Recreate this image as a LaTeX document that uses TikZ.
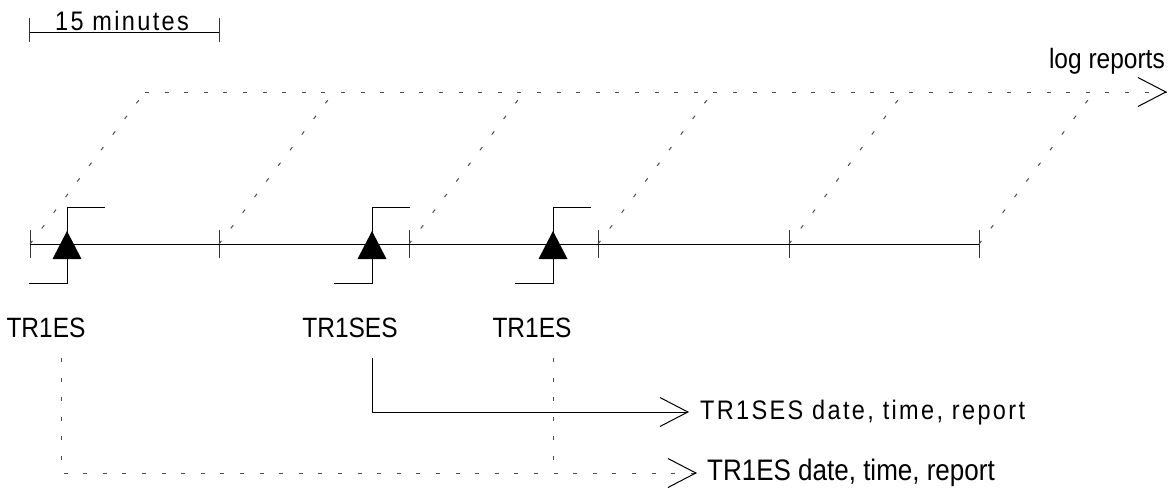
\documentclass[tikz,border=0pt]{standalone}
\usepackage{fontspec}
\usepackage{graphicx}
\setmainfont{Liberation Sans}
\usetikzlibrary{arrows.meta}
\newcommand{\tallt}[1]{\scalebox{1}[1.14]{#1}}
\begin{document}
\begin{tikzpicture}[x=1pt,y=-1pt,
  wire/.style={line width=1pt, draw=black},
  tickmark/.style={line width=1pt, draw=black!80},
  dotline/.style={line width=1pt, draw=black!70, dash pattern=on 4pt off 15.6pt},
  opentip/.style={-{Straight Barb[length=28pt,width=29pt,line width=1pt]}},
  lbl/.style={inner sep=0pt, font=\fontsize{24.5}{29}\selectfont},
  slbl/.style={inner sep=0pt, font=\fontsize{23.5}{29}\selectfont\addfontfeatures{LetterSpace=10}},
  blbl/.style={inner sep=0pt, font=\fontsize{26}{30}\selectfont},
  trig/.style={fill=black}
]
\useasboundingbox (0,0) rectangle (1168,490);

% scale bar
\coordinate (s1) at (29,32);
\coordinate (s2) at (219,32);
\draw[wire] (s1) -- (s2);
\draw[tickmark] ([yshift=-10pt]s1) -- ([yshift=14pt]s1);
\draw[tickmark] ([yshift=-10pt]s2) -- ([yshift=14pt]s2);
\node[slbl, anchor=base] (scale) at (122,30) {\tallt{15 minutes}};

% time line
\foreach \i/\x in {0/30,1/219,2/409,3/598,4/789,5/979}{
  \coordinate (t\i) at (\x,244);
  \coordinate (u\i) at (\x+115,92);
  \draw[tickmark] (\x,230) -- (\x,258);
}
\draw[wire] (t0) -- (t5);

% log reports line
\coordinate (lstart) at (u0);
\coordinate (lend) at (1167,92);
\draw[dotline] (lstart) -- (lend);
\draw[opentip, line width=1pt, draw=black] ([xshift=-1pt]lend) -- (lend);
\foreach \i in {0,...,5}{
  \draw[dotline] (t\i) -- (u\i);
}
\node[lbl, anchor=base east] (logrep) at (1165,68) {\tallt{log reports}};

% events
\foreach \n/\x in {e1/67,e2/372,e3/553}{
  \coordinate (\n) at (\x,244);
  \coordinate (\n top) at (\x,207);
  \coordinate (\n bot) at (\x,283);
  \draw[wire] (\x+38,207) -- (\n top) -- (\n bot) -- (\x-38,283);
  \fill[trig] (\x,231) -- (\x+14.5,259) -- (\x-14.5,259) -- cycle;
}

% labels
\node[lbl, anchor=base] (l1) at (46,337) {\tallt{TR1ES}};
\node[lbl, anchor=base] (l2) at (350,337) {\tallt{TR1SES}};
\node[lbl, anchor=base] (l3) at (532,337) {\tallt{TR1ES}};

% outputs
\coordinate (o1) at (689,412);
\coordinate (o2) at (697,473);
\coordinate (c2) at (372,358);
\coordinate (c2b) at (372,412);
\coordinate (c1) at (61,358);
\coordinate (c1b) at (61,473);
\coordinate (c3) at (553,358);
\coordinate (c3b) at (553,473);
\draw[wire, opentip] (c2) -- (c2b) -- (o1);
\draw[dotline] (c1) -- (c1b) -- (o2);
\draw[opentip, line width=1pt, draw=black] ([xshift=-1pt]o2) -- (o2);
\draw[dotline] (c3) -- (c3b);

\node[slbl, anchor=base west] (r1) at (700,419) {\tallt{TR1SES date, time, report}};
\node[blbl, anchor=base west] (r2) at (707,480) {\tallt{TR1ES date, time, report}};
\end{tikzpicture}
\end{document}
